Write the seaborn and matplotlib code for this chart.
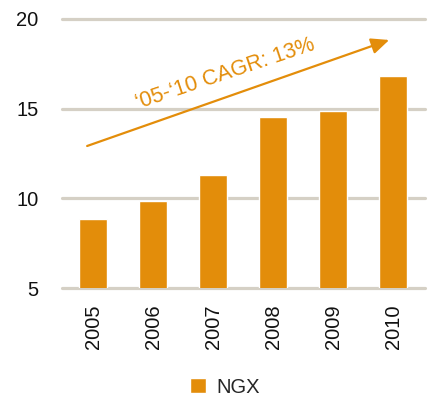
import matplotlib
matplotlib.use("Agg")
import matplotlib.pyplot as plt
import pandas as pd
import seaborn as sns
from matplotlib.patches import Patch

years = ["2005", "2006", "2007", "2008", "2009", "2010"]
ngx = [8.85, 9.85, 11.3, 14.55, 14.85, 16.8]
y_ticks = [5, 10, 15, 20]
series_name = "NGX"
cagr_text = "\u201805-\u201810 CAGR: 13%"

BAR_COLOR = "#E38D0A"
GRID_COLOR = "#D5D0C5"

sns.set_theme(style="white")
plt.rcParams["font.family"] = ["Liberation Sans", "DejaVu Sans"]

df = pd.DataFrame({"year": years, "value": ngx})

fig = plt.figure(figsize=(4.33, 4.04), dpi=100)
ax = fig.add_axes([0.143, 0.287, 0.839, 0.666])

sns.barplot(data=df, x="year", y="value", color=BAR_COLOR, width=0.47,
            saturation=1, ax=ax, zorder=3)

# gridlines drawn by hand so the edge ones are not clipped
for t in y_ticks:
    ax.axhline(t, color=GRID_COLOR, lw=2.3, solid_capstyle="round",
               clip_on=False, zorder=1)

ax.set_ylim(5, 20)
ax.set_xlim(-0.52, 5.53)
ax.set_yticks(y_ticks)
ax.set_xlabel("")
ax.set_ylabel("")
ax.tick_params(axis="y", length=0, pad=17, labelsize=14.5, labelcolor="#111111")
ax.tick_params(axis="x", length=0, pad=12, labelsize=14.5, labelcolor="#111111",
               labelrotation=90)
sns.despine(ax=ax, left=True, bottom=True)

# CAGR arrow
ax.annotate("", xy=(4.93, 18.83), xytext=(-0.1, 12.92),
            arrowprops=dict(arrowstyle="-|>,head_length=0.9,head_width=0.4",
                            color=BAR_COLOR, lw=1.6, shrinkA=0, shrinkB=0),
            annotation_clip=False, zorder=4)
ax.text(2.2, 16.95, cagr_text, color=BAR_COLOR, fontsize=15.5, rotation=18.5,
        ha="center", va="center", rotation_mode="anchor", zorder=4)

fig.legend(handles=[Patch(facecolor=BAR_COLOR, label=series_name)],
           loc="center", bbox_to_anchor=(0.52, 0.042), frameon=False,
           fontsize=14.5, handlelength=0.8, handleheight=0.8, handletextpad=0.5)

fig.savefig("out.png", dpi=100)
